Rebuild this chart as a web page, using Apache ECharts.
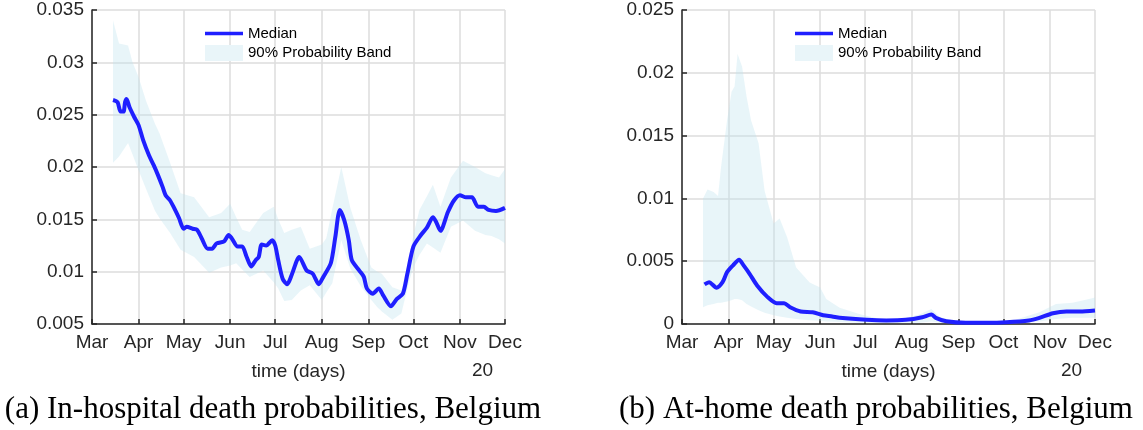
<!DOCTYPE html>
<html>
<head>
    <meta charset="utf-8"/>
    <title>Belgium death probabilities</title>
    <script src="https://cdn.jsdelivr.net/npm/echarts@6/dist/echarts.min.js"></script>
    <style>
        html, body { margin: 0; padding: 0; background: #fff; }
        #chart { width: 1143px; height: 430px; }
    </style>
</head>
<body>
<div id="chart"></div>
<script>
    // month ticks on the time axis
    var tickDates = ['2020-03-01', '2020-04-01', '2020-05-01', '2020-06-01', '2020-07-01',
        '2020-08-01', '2020-09-01', '2020-10-01', '2020-11-01', '2020-12-01'];
    var tickLabels = ['Mar', 'Apr', 'May', 'Jun', 'Jul', 'Aug', 'Sep', 'Oct', 'Nov', 'Dec'];

    // (a) in-hospital: median
    var hospDates = ['2020-03-15', '2020-03-18', '2020-03-20', '2020-03-22', '2020-03-23', '2020-03-24', '2020-03-26', '2020-03-29',
        '2020-04-01', '2020-04-04', '2020-04-08', '2020-04-11', '2020-04-14', '2020-04-17', '2020-04-19', '2020-04-22', '2020-04-25', '2020-04-28',
        '2020-05-01', '2020-05-03', '2020-05-07', '2020-05-10', '2020-05-13', '2020-05-17', '2020-05-20', '2020-05-23', '2020-05-28', '2020-05-31',
        '2020-06-02', '2020-06-06', '2020-06-09', '2020-06-12', '2020-06-15', '2020-06-18', '2020-06-20', '2020-06-22', '2020-06-25', '2020-06-29',
        '2020-07-01', '2020-07-03', '2020-07-06', '2020-07-09', '2020-07-12', '2020-07-17', '2020-07-22', '2020-07-26', '2020-07-30',
        '2020-08-02', '2020-08-07', '2020-08-10', '2020-08-13', '2020-08-16', '2020-08-19', '2020-08-21', '2020-08-26', '2020-08-29', '2020-08-31',
        '2020-09-04', '2020-09-08', '2020-09-11', '2020-09-16', '2020-09-20', '2020-09-24', '2020-09-27',
        '2020-10-01', '2020-10-06', '2020-10-10', '2020-10-14', '2020-10-16', '2020-10-19', '2020-10-24', '2020-10-28',
        '2020-11-01', '2020-11-05', '2020-11-09', '2020-11-13', '2020-11-17', '2020-11-20', '2020-11-25', '2020-12-01'];
    var hospMedian = [0.0264, 0.0262, 0.0253, 0.0253, 0.0262, 0.0265, 0.0257, 0.0248,
        0.0240, 0.0226, 0.0211, 0.0202, 0.0192, 0.0181, 0.0173, 0.0168, 0.0160, 0.0151,
        0.0141, 0.0143, 0.0141, 0.0140, 0.0132, 0.0122, 0.0122, 0.0127, 0.0129, 0.0135,
        0.0132, 0.0124, 0.0124, 0.0114, 0.0105, 0.0111, 0.0114, 0.0126, 0.0125, 0.0130,
        0.0125, 0.0111, 0.0093, 0.0088, 0.0097, 0.0114, 0.0101, 0.0098, 0.0088,
        0.0095, 0.0108, 0.0133, 0.0159, 0.0149, 0.0130, 0.0111, 0.0101, 0.0095, 0.0084,
        0.0079, 0.0084, 0.0077, 0.0067, 0.0074, 0.0079, 0.0098,
        0.0124, 0.0135, 0.0142, 0.0152, 0.0148, 0.0139, 0.0157, 0.0168,
        0.0173, 0.0171, 0.0171, 0.0162, 0.0162, 0.0159, 0.0158, 0.0161];

    // (a) in-hospital: 90% band
    var hospBandDates = ['2020-03-15', '2020-03-19', '2020-03-25', '2020-03-28', '2020-04-01', '2020-04-06', '2020-04-12', '2020-04-15',
        '2020-04-22', '2020-04-29', '2020-05-08', '2020-05-18', '2020-05-26', '2020-06-01', '2020-06-05', '2020-06-09', '2020-06-14',
        '2020-06-23', '2020-06-30', '2020-07-03', '2020-07-07', '2020-07-12', '2020-07-18', '2020-07-24', '2020-08-01', '2020-08-04',
        '2020-08-08', '2020-08-14', '2020-08-20', '2020-08-27', '2020-09-03', '2020-09-07', '2020-09-10', '2020-09-17', '2020-09-23',
        '2020-09-28', '2020-10-01', '2020-10-05', '2020-10-10', '2020-10-14', '2020-10-19', '2020-10-26', '2020-11-03', '2020-11-11',
        '2020-11-18', '2020-11-22', '2020-11-27', '2020-12-01'];
    var hospUpper = [0.0340, 0.0318, 0.0316, 0.0300, 0.0286, 0.0263, 0.0241, 0.0232,
        0.0204, 0.0175, 0.0171, 0.0152, 0.0156, 0.0165, 0.0152, 0.0140, 0.0138,
        0.0156, 0.0162, 0.0150, 0.0137, 0.0140, 0.0143, 0.0122, 0.0126, 0.0132,
        0.0160, 0.0200, 0.0161, 0.0130, 0.0104, 0.0100, 0.0098, 0.0085, 0.0082,
        0.0112, 0.0135, 0.0159, 0.0172, 0.0183, 0.0162, 0.0190, 0.0206, 0.0200,
        0.0194, 0.0192, 0.0190, 0.0198];
    var hospLower = [0.0204, 0.0210, 0.0223, 0.0212, 0.0197, 0.0179, 0.0158, 0.0151,
        0.0137, 0.0121, 0.0114, 0.0099, 0.0104, 0.0106, 0.0108, 0.0102, 0.0095,
        0.0101, 0.0090, 0.0084, 0.0072, 0.0073, 0.0082, 0.0087, 0.0073, 0.0080,
        0.0089, 0.0130, 0.0103, 0.0086, 0.0073, 0.0066, 0.0062, 0.0054, 0.0060,
        0.0090, 0.0104, 0.0116, 0.0127, 0.0123, 0.0118, 0.0143, 0.0149, 0.0139,
        0.0135, 0.0134, 0.0131, 0.0127];

    // (b) at-home: median
    var homeDates = ['2020-03-16', '2020-03-19', '2020-03-24', '2020-03-28', '2020-03-31', '2020-04-04', '2020-04-08', '2020-04-11',
        '2020-04-15', '2020-04-20', '2020-04-27', '2020-05-03', '2020-05-08', '2020-05-12', '2020-05-19', '2020-05-27', '2020-06-03',
        '2020-06-09', '2020-06-14', '2020-07-02', '2020-07-15', '2020-07-28', '2020-08-08', '2020-08-14', '2020-08-17', '2020-08-24',
        '2020-09-06', '2020-09-20', '2020-10-03', '2020-10-18', '2020-10-25', '2020-11-03', '2020-11-12', '2020-11-21', '2020-12-01'];
    var homeMedian = [0.00315, 0.00333, 0.00289, 0.00333, 0.00413, 0.00467, 0.00512, 0.00467,
        0.00400, 0.00307, 0.00214, 0.00166, 0.00166, 0.00134, 0.00100, 0.00094, 0.00070,
        0.00060, 0.00049, 0.00033, 0.00028, 0.00033, 0.00054, 0.00076, 0.00049, 0.00022,
        0.00010, 0.00010, 0.00014, 0.00028, 0.00049, 0.00086, 0.00100, 0.00100, 0.00108];

    // (b) at-home: 90% band
    var homeBandDates = ['2020-03-15', '2020-03-18', '2020-03-22', '2020-03-25', '2020-03-27', '2020-03-31', '2020-04-03', '2020-04-05',
        '2020-04-07', '2020-04-10', '2020-04-13', '2020-04-16', '2020-04-21', '2020-04-25', '2020-05-01', '2020-05-05', '2020-05-10',
        '2020-05-16', '2020-05-25', '2020-06-01', '2020-06-05', '2020-06-14', '2020-06-27', '2020-07-11', '2020-07-24', '2020-08-06',
        '2020-08-14', '2020-08-20', '2020-08-31', '2020-09-20', '2020-10-09', '2020-10-25', '2020-11-05', '2020-11-16', '2020-11-27', '2020-12-01'];
    var homeUpper = [0.0100, 0.0107, 0.0105, 0.0102, 0.0125, 0.0162, 0.0185, 0.0189,
        0.0215, 0.0205, 0.0181, 0.0162, 0.0144, 0.0106, 0.0080, 0.0084, 0.0069,
        0.0045, 0.0033, 0.0029, 0.0020, 0.0013, 0.0008, 0.0004, 0.00035, 0.00076,
        0.0012, 0.00054, 0.00022, 0.00018, 0.00033, 0.00094, 0.0016, 0.0017, 0.0020, 0.0021];
    var homeLower = [0.00134, 0.0015, 0.0016, 0.0017, 0.0017, 0.0018, 0.0019, 0.0020,
        0.0020, 0.0019, 0.0016, 0.0014, 0.0011, 0.0009, 0.0007, 0.0006, 0.0005,
        0.0004, 0.0003, 0.00025, 0.0002, 0.00015, 0.0001, 0.00008, 0.00008, 0.0001,
        0.0002, 0.0001, 0.00005, 0.00003, 0.00005, 0.0002, 0.0004, 0.0005, 0.0005, 0.0005];

    var Myechart = echarts.init(document.getElementById('chart'));

    var axisColor = '#262626';
    var blue = '#1f1fff';
    var bandFill = 'rgba(190,225,238,0.35)';

    // dates -> ms timestamps, plotted on a value axis
    function ts(d) { return echarts.time.parse(d).getTime(); }
    var tickTimes = tickDates.map(ts);

    function pairs(xs, ys) {
        return xs.map(function (d, i) { return [ts(d), ys[i]]; });
    }

    function makeX(gi) {
        return {
            type: 'value',
            gridIndex: gi,
            min: tickTimes[0],
            max: tickTimes[tickTimes.length - 1],
            name: 'time (days)',
            nameLocation: 'middle',
            nameGap: 38,
            nameTextStyle: {color: axisColor, fontSize: 19, fontFamily: 'Liberation Sans'},
            axisLine: {show: true, lineStyle: {color: axisColor, width: 1.5}},
            axisTick: {show: true, inside: true, length: 5, customValues: tickTimes,
                lineStyle: {color: axisColor, width: 1.5}},
            axisLabel: {
                customValues: tickTimes,
                margin: 9,
                color: axisColor,
                fontSize: 19,
                fontFamily: 'Liberation Sans',
                formatter: function (v) {
                    var i = tickTimes.indexOf(v);
                    return i >= 0 ? tickLabels[i] : '';
                }
            },
            splitLine: {show: true, lineStyle: {color: '#dcdcdc', width: 1.5}}
        };
    }

    function makeY(gi, min, max) {
        return {
            type: 'value',
            gridIndex: gi,
            min: min,
            max: max,
            interval: 0.005,
            axisLine: {show: true, lineStyle: {color: axisColor, width: 1.5}},
            axisTick: {show: true, inside: true, length: 5, lineStyle: {color: axisColor, width: 1.5}},
            axisLabel: {
                margin: 8,
                color: axisColor,
                fontSize: 19,
                fontFamily: 'Liberation Sans',
                formatter: function (v) { return String(+v.toFixed(3)); }
            },
            splitLine: {show: true, lineStyle: {color: '#dcdcdc', width: 1.5}}
        };
    }

    // band drawn as one polygon: upper edge forward, lower edge back
    function bandSeries(gi, dates, upper, lower) {
        return {
            name: '90% Probability Band',
            type: 'custom',
            xAxisIndex: gi,
            yAxisIndex: gi,
            silent: true,
            itemStyle: {color: '#e9f5f9'},
            encode: {x: 0, y: 1},
            data: pairs(dates, upper),
            renderItem: function (params, api) {
                if (params.dataIndex !== 0) return null;
                var pts = [];
                for (var i = 0; i < dates.length; i++) {
                    pts.push(api.coord([ts(dates[i]), upper[i]]));
                }
                for (var j = dates.length - 1; j >= 0; j--) {
                    pts.push(api.coord([ts(dates[j]), lower[j]]));
                }
                return {type: 'polygon', shape: {points: pts}, style: {fill: bandFill}};
            },
            z: 1
        };
    }

    function medianSeries(gi, dates, vals) {
        return {
            name: 'Median',
            type: 'line',
            xAxisIndex: gi,
            yAxisIndex: gi,
            symbol: 'none',
            smooth: 0.25,
            itemStyle: {color: blue},
            lineStyle: {color: blue, width: 4},
            data: pairs(dates, vals),
            z: 5
        };
    }

    var lineIcon = 'path://M0,6.5 L40,6.5 L40,10 L0,10 Z';

    function makeLegend(left) {
        return {
            left: left,
            top: 21,
            orient: 'vertical',
            itemWidth: 38,
            itemHeight: 16,
            itemGap: 4,
            selectedMode: false,
            textStyle: {color: '#000', fontSize: 15, fontFamily: 'Liberation Sans'},
            data: [
                {name: 'Median', icon: lineIcon, itemStyle: {color: blue}},
                {name: '90% Probability Band', icon: 'rect', itemStyle: {color: '#e9f5f9'}}
            ]
        };
    }

    var option = {
        animation: false,
        backgroundColor: '#fff',
        grid: [
            {left: 92, top: 10, width: 413, height: 314},
            {left: 682, top: 10, width: 413, height: 314}
        ],
        legend: [makeLegend(200), makeLegend(790)],
        xAxis: [makeX(0), makeX(1)],
        yAxis: [makeY(0, 0.005, 0.035), makeY(1, 0, 0.025)],
        series: [
            bandSeries(0, hospBandDates, hospUpper, hospLower),
            medianSeries(0, hospDates, hospMedian),
            bandSeries(1, homeBandDates, homeUpper, homeLower),
            medianSeries(1, homeDates, homeMedian)
        ],
        graphic: [
            {type: 'text', left: 472, top: 361, style: {text: '20', fontSize: 19, fontFamily: 'Liberation Sans', fill: axisColor}},
            {type: 'text', left: 1061, top: 361, style: {text: '20', fontSize: 19, fontFamily: 'Liberation Sans', fill: axisColor}},
            {type: 'text', x: 273, y: 410, style: {text: '(a) In-hospital death probabilities, Belgium', align: 'center', verticalAlign: 'middle',
                fontSize: 31, fontFamily: 'Liberation Serif', fill: '#000'}},
            {type: 'text', x: 876, y: 410, style: {text: '(b) At-home death probabilities, Belgium', align: 'center', verticalAlign: 'middle',
                fontSize: 31, fontFamily: 'Liberation Serif', fill: '#000'}}
        ]
    };
    Myechart.setOption(option);
</script>
</body>
</html>
